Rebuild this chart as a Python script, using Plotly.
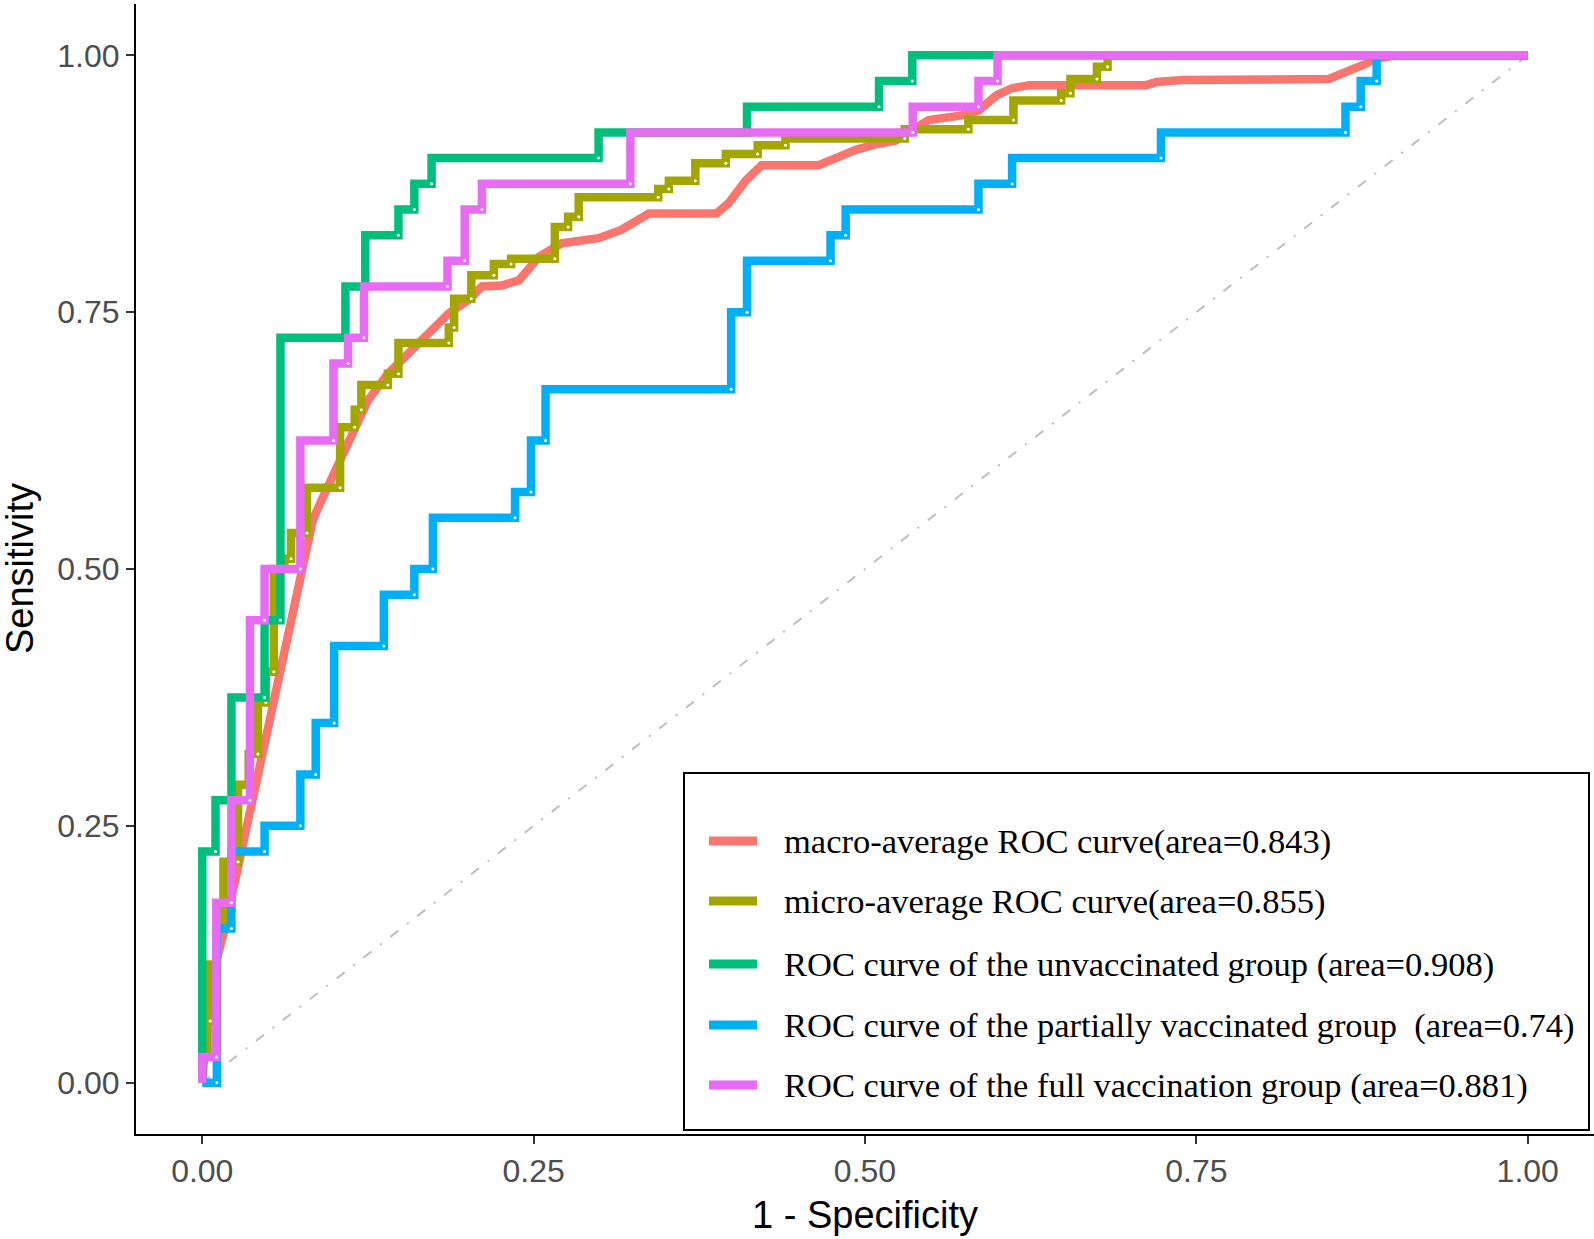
import plotly.graph_objects as go

# ---------------- data ----------------
# macro-average ROC (interpolated, drawn as straight segments)
macro_fpr = [0, 0.002, 0.005, 0.017, 0.040, 0.060, 0.0835, 0.090, 0.100, 0.110, 0.125, 0.140,
             0.155, 0.170, 0.186, 0.201, 0.211, 0.226, 0.239, 0.254, 0.271, 0.299, 0.316, 0.337,
             0.388, 0.397, 0.410, 0.422, 0.465, 0.478, 0.493, 0.510, 0.523, 0.535, 0.548, 0.573,
             0.586, 0.599, 0.611, 0.624, 0.712, 0.720, 0.740, 0.850, 0.865, 0.878, 0.886, 0.900, 1.0]
macro_tpr = [0, 0.050, 0.090, 0.150, 0.290, 0.410, 0.548, 0.567, 0.596, 0.6255, 0.664, 0.690,
             0.710, 0.730, 0.749, 0.762, 0.775, 0.776, 0.781, 0.804, 0.817, 0.822, 0.830, 0.846,
             0.846, 0.856, 0.878, 0.893, 0.893, 0.900, 0.908, 0.914, 0.917, 0.927, 0.937, 0.9416,
             0.9465, 0.961, 0.968, 0.971, 0.971, 0.974, 0.976, 0.977, 0.984, 0.992, 0.997, 1.0, 1.0]

# micro-average ROC (step curve)
micro_fpr = [0, 0, 0.004, 0.006, 0.011, 0.016, 0.027, 0.035, 0.042, 0.048, 0.054, 0.062, 0.067,
             0.079, 0.104, 0.115, 0.120, 0.140, 0.148, 0.186, 0.190, 0.203, 0.220, 0.233, 0.266,
             0.276, 0.284, 0.344, 0.352, 0.372, 0.395, 0.419, 0.440, 0.530, 0.578, 0.612, 0.648,
             0.655, 0.675, 0.683, 1.0]
micro_tpr = [0, 0.025, 0.060, 0.115, 0.150, 0.215, 0.290, 0.320, 0.370, 0.400, 0.500, 0.510, 0.535,
             0.579, 0.638, 0.655, 0.679, 0.690, 0.720, 0.735, 0.763, 0.786, 0.797, 0.802, 0.833,
             0.843, 0.862, 0.870, 0.878, 0.895, 0.904, 0.9125, 0.919, 0.928, 0.937, 0.956, 0.963,
             0.977, 0.989, 1.0, 1.0]

# unvaccinated group
unvac_fpr = [0, 0, 0.010, 0.022, 0.047, 0.059, 0.108, 0.123, 0.148, 0.160, 0.173, 0.299, 0.411,
             0.5106, 0.5357, 1.0]
unvac_tpr = [0, 0.225, 0.275, 0.375, 0.450, 0.725, 0.775, 0.825, 0.850, 0.875, 0.900, 0.925, 0.950,
             0.975, 1.0, 1.0]

# partially vaccinated group
partial_fpr = [0, 0.011, 0.022, 0.047, 0.074, 0.0856, 0.0995, 0.137, 0.160, 0.174, 0.236, 0.248,
               0.259, 0.399, 0.411, 0.474, 0.4854, 0.5856, 0.611, 0.7233, 0.8625, 0.874, 0.886, 1.0]
partial_tpr = [0, 0.150, 0.225, 0.250, 0.300, 0.350, 0.425, 0.475, 0.500, 0.550, 0.575, 0.625,
               0.675, 0.750, 0.800, 0.825, 0.850, 0.875, 0.900, 0.925, 0.950, 0.975, 1.0, 1.0]

# full vaccination group
full_fpr = [0, 0, 0.0106, 0.022, 0.036, 0.047, 0.074, 0.099, 0.110, 0.122, 0.185, 0.198, 0.211,
            0.323, 0.536, 0.5856, 0.600, 1.0]
full_tpr = [0, 0.025, 0.175, 0.275, 0.450, 0.500, 0.625, 0.700, 0.725, 0.775, 0.800, 0.850, 0.875,
            0.925, 0.950, 0.975, 1.0, 1.0]

series_names = [
    "macro-average ROC curve(area=0.843)",
    "micro-average ROC curve(area=0.855)",
    "ROC curve of the unvaccinated group (area=0.908)",
    "ROC curve of the partially vaccinated group\u00a0 (area=0.74)",
    "ROC curve of the full vaccination group (area=0.881)",
]
series_x = [macro_fpr, micro_fpr, unvac_fpr, partial_fpr, full_fpr]
series_y = [macro_tpr, micro_tpr, unvac_tpr, partial_tpr, full_tpr]
series_step = [False, True, True, True, True]
colors = ["#F8766D", "#A3A500", "#00BF7D", "#00B0F6", "#E76BF3"]

x_ticks = [0, 0.25, 0.5, 0.75, 1.0]
x_ticktext = ["0.00", "0.25", "0.50", "0.75", "1.00"]
y_ticks = [0, 0.25, 0.5, 0.75, 1.0]
y_ticktext = ["0.00", "0.25", "0.50", "0.75", "1.00"]

# ---------------- layout geometry (pixels) ----------------
W, H = 1594, 1239
ML, MR, MT, MB = 136, 0, 4, 105
PW, PH = W - ML - MR, H - MT - MB


def px(xp):
    return (xp - ML) / PW


def py(yp):
    return (H - MB - yp) / PH


fig = go.Figure()

# diagonal reference line
fig.add_trace(go.Scatter(x=[0, 1], y=[0, 1], mode="lines",
                         line=dict(color="#BEBEBE", width=2, dash="10px,11px,2px,11px"),
                         hoverinfo="skip", showlegend=False))

for name, xs, ys, step, col in zip(series_names, series_x, series_y, series_step, colors):
    fig.add_trace(go.Scatter(x=xs, y=ys, mode="lines", name=name,
                             line=dict(color=col, width=8.5, shape="hv" if step else "linear"),
                             showlegend=False))
    if step:
        cx, cy = [], []
        for i in range(1, len(xs)):
            if xs[i] > xs[i - 1] and ys[i] > ys[i - 1]:
                cx.append(xs[i])
                cy.append(ys[i - 1])
        fig.add_trace(go.Scatter(x=cx, y=cy, mode="markers",
                                 marker=dict(color="white", size=3, line=dict(width=0)),
                                 hoverinfo="skip", showlegend=False))

# legend box (manual)
shapes = [dict(type="rect", xref="paper", yref="paper",
               x0=px(684), x1=px(1589), y0=py(1130), y1=py(773),
               line=dict(color="black", width=2), fillcolor="white", layer="above")]
annotations = []
row_y = [841, 901, 964, 1025, 1085]
for name, col, ry in zip(series_names, colors, row_y):
    shapes.append(dict(type="line", xref="paper", yref="paper",
                       x0=px(709), x1=px(757), y0=py(ry), y1=py(ry),
                       line=dict(color=col, width=9), layer="above"))
    annotations.append(dict(text=name, xref="paper", yref="paper", x=px(782), y=py(ry),
                            xanchor="left", yanchor="middle", showarrow=False,
                            font=dict(family="Liberation Serif, Times New Roman, serif",
                                      size=34.5, color="black")))

# axis titles
annotations.append(dict(text="1 - Specificity", xref="paper", yref="paper",
                        x=px(865), y=py(1215), xanchor="center", yanchor="middle",
                        showarrow=False,
                        font=dict(family="Liberation Sans, Arial, sans-serif", size=38,
                                  color="black")))
annotations.append(dict(text="Sensitivity", xref="paper", yref="paper",
                        x=px(20), y=py(569), xanchor="center", yanchor="middle",
                        textangle=-90, showarrow=False,
                        font=dict(family="Liberation Sans, Arial, sans-serif", size=38,
                                  color="black")))

axis_common = dict(showgrid=False, zeroline=False, showline=True, linecolor="black",
                   linewidth=2, ticks="outside", ticklen=8, tickwidth=1.5, tickcolor="#333333",
                   tickfont=dict(family="Liberation Sans, Arial, sans-serif", size=32,
                                 color="#4D4D4D"),
                   range=[-0.05, 1.05], fixedrange=True)

fig.update_layout(
    width=W, height=H,
    margin=dict(l=ML, r=MR, t=MT, b=MB, pad=0),
    paper_bgcolor="white", plot_bgcolor="white",
    xaxis=dict(**axis_common, tickvals=x_ticks, ticktext=x_ticktext),
    yaxis=dict(**axis_common, tickvals=y_ticks, ticktext=y_ticktext),
    shapes=shapes, annotations=annotations, showlegend=False,
)

fig.write_html("out.html",
               config={"displayModeBar": False},
               post_script="document.body.style.margin='0px';"
                           "document.body.style.overflow='hidden';")
